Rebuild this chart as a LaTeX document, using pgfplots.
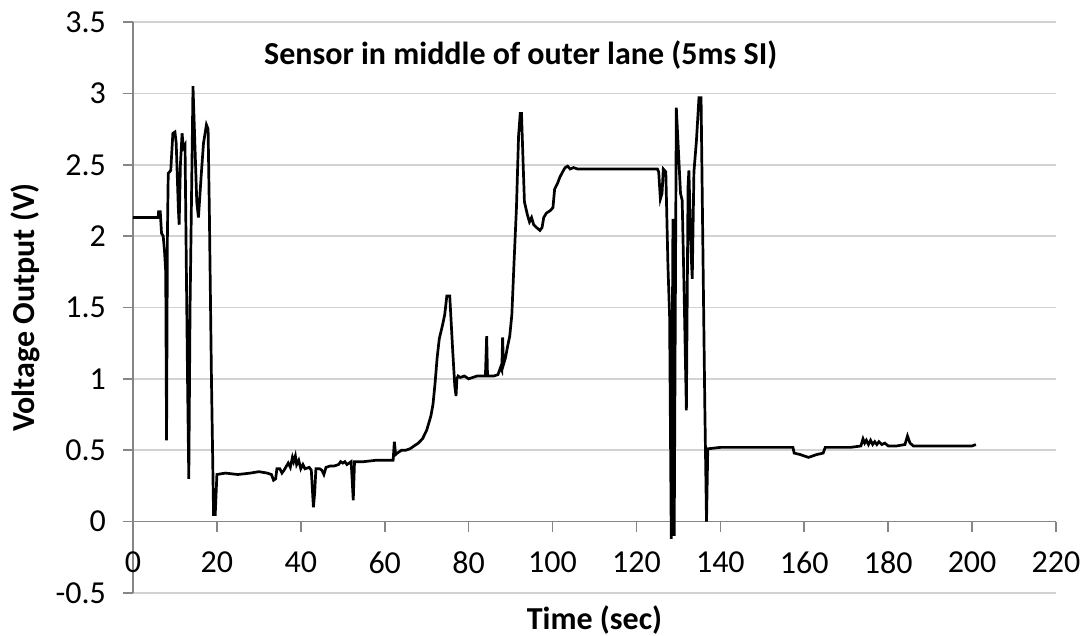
\documentclass[border=0pt]{standalone}
\usepackage{fontspec}
\setmainfont{Carlito}
\usepackage{pgfplots}
\pgfplotsset{compat=1.18}
\definecolor{axgray}{RGB}{134,134,134}
\definecolor{grdgray}{RGB}{210,210,210}
\begin{document}
\begin{tikzpicture}
\begin{axis}[
  at={(66.5pt,21.5pt)}, anchor=south west,
  width=461.5pt, height=285.5pt, scale only axis,
  xmin=0, xmax=220, ymin=-0.5, ymax=3.5,
  xtick={0,20,...,220}, ytick={-0.5,0,0.5,1,1.5,2,2.5,3,3.5},
  axis x line*=middle, axis y line*=left,
  hide obscured x ticks=false, hide obscured y ticks=false,
  axis line style={axgray, line width=0.8pt, -},
  tick style={axgray, line width=0.8pt},
  major tick length=5pt,
  tick align=outside,
  ymajorgrids, grid style={grdgray, line width=0.8pt},
  font=\fontsize{16}{19}\selectfont,
  /pgf/number format/assume math mode=true,
  yticklabel style={xshift=-5pt},
  xticklabel style={yshift=-6.5pt},
  xlabel={\bfseries Time (sec)},
  ylabel={\bfseries Voltage Output (V)},
  xlabel style={at={(axis description cs:0.5,-0.047)}, anchor=center},
  ylabel style={at={(axis description cs:-0.1170,0.5)}, anchor=center},
  clip=false,
]
\addplot[black, line width=1.35pt, sharp plot, mark=none] coordinates {
(0,2.13) (3,2.13) (6,2.13) (6.1,2.17) (6.5,2.17) (6.8,2.02) (7.2,2.0) (7.5,1.9) (7.8,1.75) (8.0,0.57) (8.2,2.0) (8.4,2.44) (9.0,2.46) (9.5,2.72) (10.0,2.73) (10.3,2.65) (10.8,2.2) (11.0,2.08) (11.3,2.5) (11.7,2.72) (12.0,2.62) (12.4,2.64) (13.0,1.0) (13.3,0.30) (13.6,1.5) (14.3,3.05) (14.8,2.6) (15.2,2.24) (15.6,2.13) (16.2,2.4) (16.8,2.65) (17.5,2.78) (17.9,2.75) (18.2,2.17) (18.7,1.0) (19.2,0.05) (19.6,0.05) (20.0,0.33)
(22,0.34) (25,0.33) (28,0.34) (30,0.35) (32,0.34) (33,0.33) (33.5,0.29) (34,0.30) (34.3,0.37) (35,0.37) (35.5,0.34) (36,0.36) (37,0.41) (37.5,0.38) (38,0.45) (38.3,0.42) (38.7,0.46) (39,0.40) (39.5,0.43) (40,0.37) (40.5,0.40) (41,0.37) (42,0.38) (42.5,0.36) (43,0.10) (43.3,0.20) (43.6,0.37) (44.5,0.37) (45,0.36) (45.5,0.33) (46,0.38) (47,0.39) (48,0.39) (49,0.40) (49.5,0.42) (50,0.41) (50.5,0.42) (51,0.40) (52,0.42) (52.5,0.15) (52.8,0.42) (55,0.42) (58,0.43) (62,0.43) (62.3,0.56) (62.6,0.47) (63,0.48) (64,0.50) (65,0.50) (66,0.51) (67,0.53) (68,0.55) (69,0.58) (70,0.64) (71,0.74) (71.5,0.82) (72,0.97) (72.5,1.15) (73,1.28) (73.8,1.38) (74.3,1.45) (74.8,1.58) (75.5,1.58) (76.2,1.2) (76.7,0.95) (77.0,0.88) (77.2,1.0) (77.5,1.02) (78,1.01) (79,1.02) (80,1.0) (81,1.01) (82,1.02) (83,1.02) (84,1.02) (84.3,1.30) (84.5,1.02) (86,1.02) (87,1.03) (87.6,1.08) (87.9,1.06) (88.1,1.29) (88.3,1.10) (88.8,1.15) (89.3,1.23) (89.8,1.30) (90.3,1.45) (90.8,1.8) (91.4,2.2) (91.9,2.7) (92.3,2.86) (92.6,2.86) (93.0,2.5) (93.3,2.24) (94.0,2.15) (94.5,2.10) (95.0,2.13) (95.5,2.08) (96.2,2.06) (97.0,2.04) (97.5,2.06) (97.9,2.13) (98.5,2.16) (99.5,2.18) (100.1,2.2) (100.5,2.33) (101.2,2.37) (101.7,2.41) (102.4,2.45) (103.0,2.48) (103.6,2.49) (104.2,2.47) (105,2.48) (106,2.47) (108,2.47) (110,2.47) (113,2.47) (116,2.47) (119,2.47) (122,2.47) (125,2.47)
(125.3,2.45) (125.7,2.26) (126.1,2.30) (126.4,2.47) (127.0,2.45) (127.5,1.8) (127.9,1.44) (128.3,-0.12) (128.7,2.12) (129.0,-0.10) (129.5,2.9) (130.5,2.3) (130.9,2.25) (131.3,1.7) (131.9,0.78) (132.3,2.35) (132.5,2.46) (133.0,1.9) (133.3,1.7) (133.7,2.45) (134.3,2.67) (134.9,2.97) (135.4,2.97) (135.8,2.0) (136.3,0.8) (136.7,0.0) (137.0,0.51)
(140,0.52) (145,0.52) (150,0.52) (155,0.52) (157.3,0.52) (157.6,0.48) (159,0.47) (160,0.46) (161,0.45) (162,0.46) (163,0.47) (164.5,0.48) (165,0.52) (168,0.52) (171,0.52) (173.5,0.53) (174,0.58) (174.4,0.55) (174.8,0.57) (175.3,0.54) (175.8,0.57) (176.3,0.54) (176.8,0.56) (177.3,0.54) (177.8,0.56) (178.5,0.54) (179.2,0.55) (180,0.53) (182,0.53) (184,0.54) (184.6,0.60) (185.2,0.55) (186,0.53) (188,0.53) (192,0.53) (196,0.53) (200,0.53) (200.9,0.54)
};
\node[font=\fontsize{16}{19}\selectfont\bfseries] at (axis cs:92.4,3.27) {Sensor in middle of outer lane (5ms SI)};
\end{axis}
\pgfresetboundingbox
\path (0,0) rectangle (544.5pt,318pt);
\end{tikzpicture}
\end{document}
